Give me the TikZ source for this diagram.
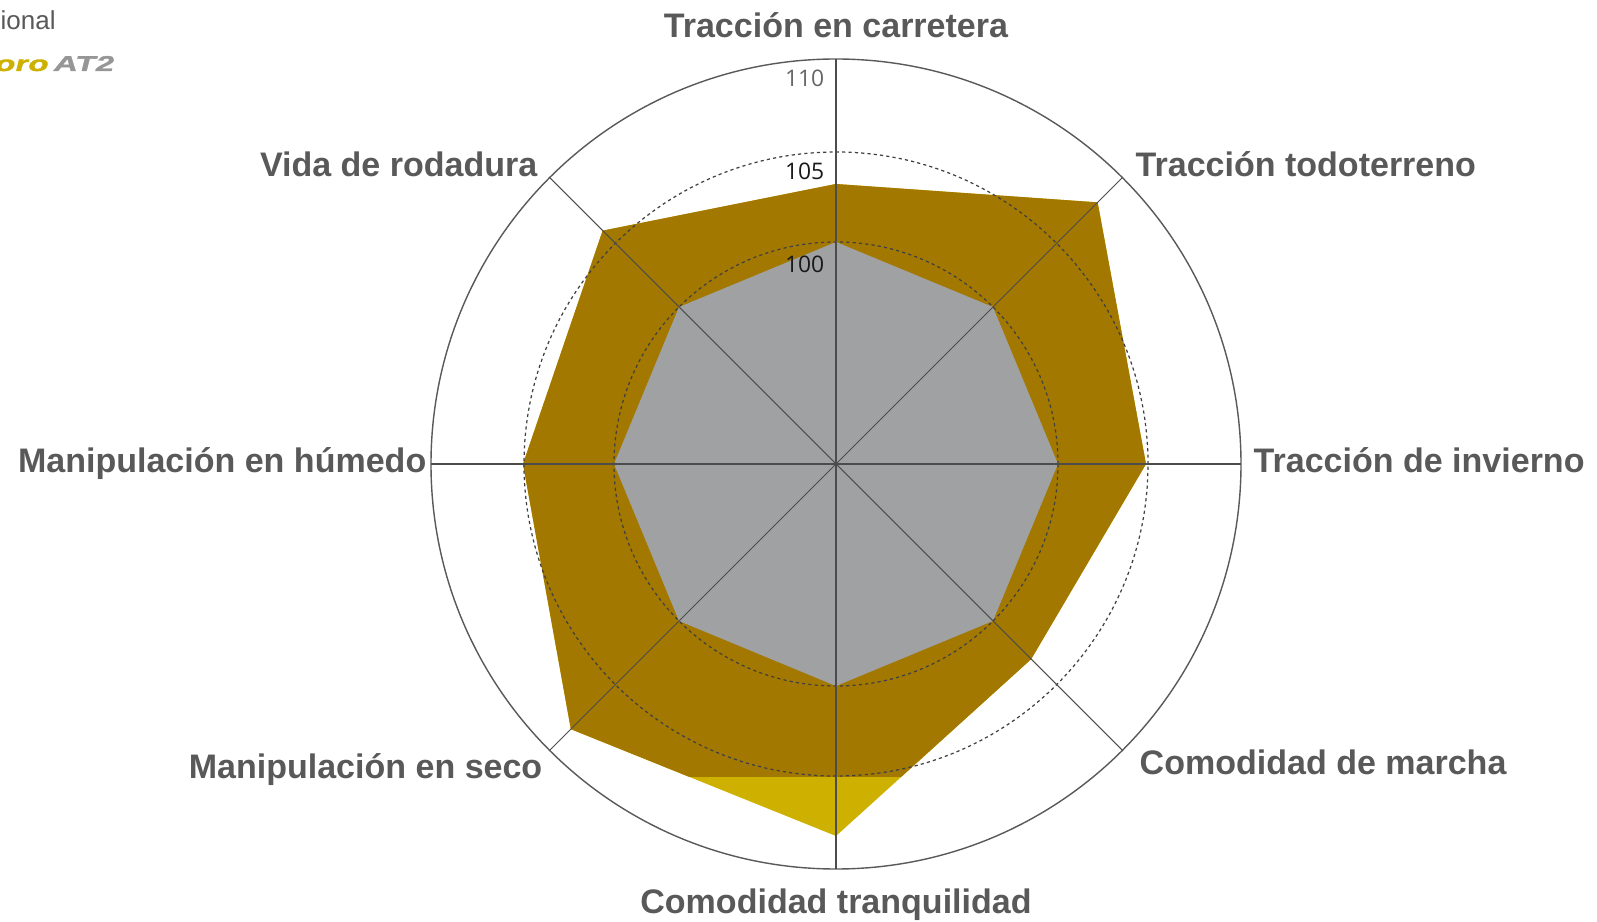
\documentclass[tikz,border=0pt]{standalone}
\usepackage{fontspec}
\setmainfont{Liberation Sans}
\newfontfamily\tickfont{Open Sans}
\newfontfamily\logofont{Liberation Sans Bold}[FakeSlant=0.25,FakeStretch=1.55,FakeBold=1.5]
\usepackage{xcolor}
\definecolor{oroscuro}{RGB}{163,120,0}
\definecolor{oroclaro}{RGB}{205,176,0}
\definecolor{grisbase}{RGB}{160,161,163}
\definecolor{gristexto}{RGB}{89,89,89}
\definecolor{grislogo}{RGB}{150,150,150}

\begin{document}
\begin{tikzpicture}[font=\fontsize{9.68}{11.5}\selectfont\bfseries,
    catlabel/.style={inner sep=0pt, text=gristexto},
    ticklabel/.style={inner sep=0pt, font=\tickfont\fontsize{6.5}{8}\selectfont},
    axisline/.style={draw=black!70, line width=0.3pt},
    gridring/.style={draw=black!75, line width=0.35pt, dash pattern=on 0.9pt off 0.9pt},
    outerring/.style={draw=black!65, line width=0.4pt}]
    \useasboundingbox (-8.36,-4.57) rectangle (7.61,4.64);

    % neumatico nuevo (claro) y recorte oscuro
    \fill[oroclaro] (90:2.80) -- (45:3.70) -- (0:3.10) -- (-45:2.76) -- (-90:3.72)
        -- (-135:3.75) -- (180:3.13) -- (135:3.30) -- cycle;
    \begin{scope}
        \clip (-4.2,-3.12) rectangle (4.2,4.2);
        \fill[oroscuro] (90:2.80) -- (45:3.70) -- (0:3.10) -- (-45:2.76) -- (-90:3.72)
            -- (-135:3.75) -- (180:3.13) -- (135:3.30) -- cycle;
    \end{scope}
    % referencia 100
    \fill[grisbase] (90:2.22) -- (45:2.22) -- (0:2.22) -- (-45:2.22) -- (-90:2.22)
        -- (-135:2.22) -- (180:2.22) -- (135:2.22) -- cycle;

    \draw[gridring] (0,0) circle (2.22);
    \draw[gridring] (0,0) circle (3.12);
    \draw[outerring] (0,0) circle (4.05);

    \draw[axisline] (90:4.05) -- (-90:4.05);
    \draw[axisline] (0:4.05) -- (180:4.05);
    \draw[axisline] (45:4.05) -- (-135:4.05);
    \draw[axisline] (135:4.05) -- (-45:4.05);

    \node[ticklabel, anchor=base east, text=black!60] (t110) at (-0.11, 3.77) {110};
    \node[ticklabel, anchor=base east, text=black!90] (t105) at (-0.11, 2.84) {105};
    \node[ticklabel, anchor=base east, text=black!90] (t100) at (-0.11, 1.91) {100};

    \node[catlabel, anchor=base] (carretera) at (0, 4.26) {Tracción en carretera};
    \node[catlabel, anchor=base west] (todoterreno) at (2.99, 2.87) {Tracción todoterreno};
    \node[catlabel, anchor=base west] (invierno) at (4.17, -0.09) {Tracción de invierno};
    \node[catlabel, anchor=base west] (marcha) at (3.03, -3.10) {Comodidad de marcha};
    \node[catlabel, anchor=base] (tranquilidad) at (0, -4.49) {Comodidad tranquilidad};
    \node[catlabel, anchor=base east] (seco) at (-2.93, -3.14) {Manipulación en seco};
    \node[catlabel, anchor=base east] (humedo) at (-4.09, -0.09) {Manipulación en húmedo};
    \node[catlabel, anchor=base east] (rodadura) at (-2.98, 2.87) {Vida de rodadura};

    % leyenda (cortada por el borde)
    \node[inner sep=0pt, anchor=base west, text=gristexto,
        font=\fontsize{7.4}{8.8}\selectfont\mdseries] (leyendaA) at (-8.36, 4.34) {ional};
    \node[inner sep=0pt, anchor=base west,
        font=\logofont\fontsize{6.1}{7.2}\selectfont] (leyendaB) at (-8.43, 3.93)
        {\textcolor{oroclaro}{oro}\hspace{1.5pt}\textcolor{grislogo}{AT2}};
\end{tikzpicture}
\end{document}
